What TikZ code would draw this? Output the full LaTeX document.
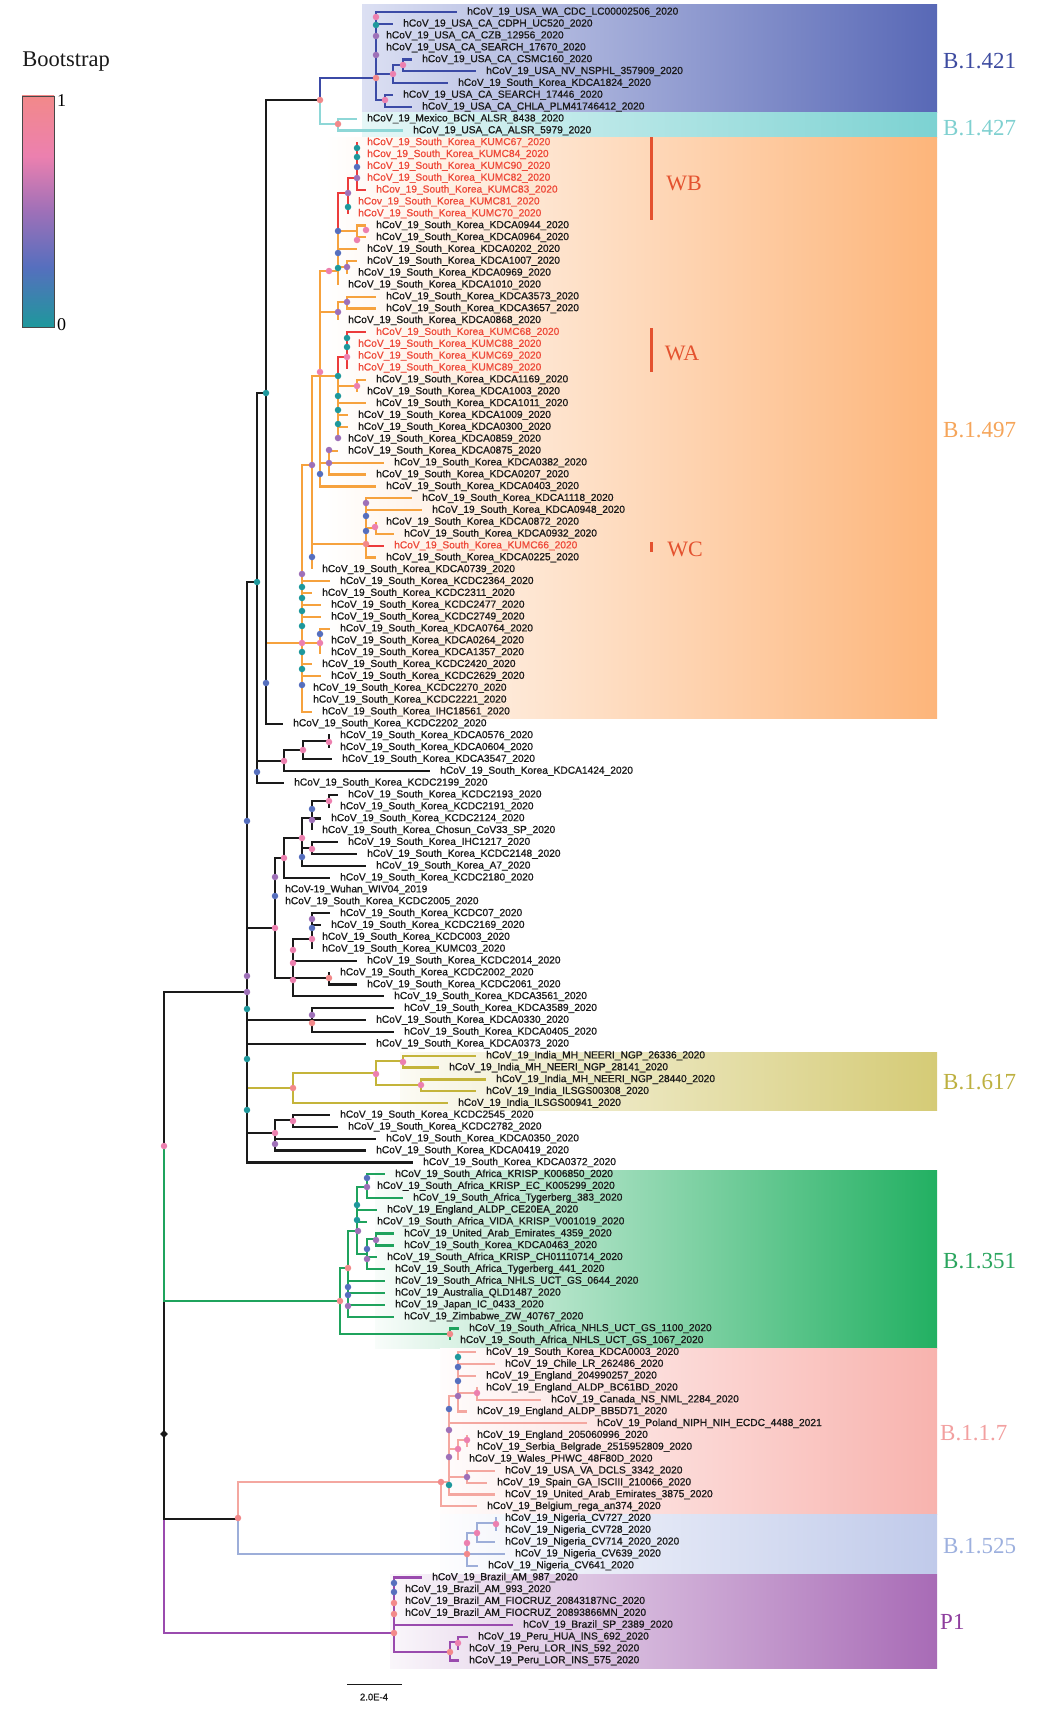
\documentclass[tikz,border=0pt]{standalone}
\usepackage{fontspec}
\setmainfont{Liberation Serif}
\setsansfont{Liberation Sans}
\newfontfamily\leaffont{Liberation Sans}[BoldFont=Liberation Sans,BoldFeatures={FakeBold=0.9}]
\usetikzlibrary{shapes.geometric}
\definecolor{Ink}{HTML}{1A1A1A}
\definecolor{Hot}{HTML}{EE4A3A}
\definecolor{CW}{HTML}{EC3B3B}
\definecolor{C421}{HTML}{3B4AA6}
\definecolor{C427}{HTML}{8ED7D7}
\definecolor{C497}{HTML}{F6A23E}
\definecolor{C617}{HTML}{C4B43A}
\definecolor{C351}{HTML}{1FA35D}
\definecolor{C117}{HTML}{F4A7A0}
\definecolor{C525}{HTML}{9DAED9}
\definecolor{CP1}{HTML}{9A4BAE}
\definecolor{G421}{HTML}{5868B6}
\definecolor{G421L}{HTML}{DCE0F3}
\definecolor{G427}{HTML}{7CD2D2}
\definecolor{G427L}{HTML}{E6F7F7}
\definecolor{G497}{HTML}{FDB57A}
\definecolor{G617}{HTML}{D5CB76}
\definecolor{G351}{HTML}{22B062}
\definecolor{G117}{HTML}{F8B3AE}
\definecolor{G525}{HTML}{C0CAEA}
\definecolor{GP1}{HTML}{A86BB6}
\definecolor{T421}{HTML}{3D4BA0}
\definecolor{T427}{HTML}{7FD0D0}
\definecolor{T497}{HTML}{F5A55A}
\definecolor{T617}{HTML}{BDB040}
\definecolor{T351}{HTML}{2AA55E}
\definecolor{T117}{HTML}{F2A0A0}
\definecolor{T525}{HTML}{9DB0DE}
\definecolor{TP1}{HTML}{8E3E9E}
\definecolor{Wred}{HTML}{E4522F}
\definecolor{bsT}{HTML}{1E989C}
\definecolor{bsB}{HTML}{566FBE}
\definecolor{bsP}{HTML}{9E70B8}
\definecolor{bsK}{HTML}{EC80AF}
\definecolor{bsR}{HTML}{F2898A}
\pgfdeclareverticalshading{bootbar}{100bp}{color(0bp)=(bsT); color(25bp)=(bsT); color(38bp)=(bsB); color(50bp)=(bsP); color(62bp)=(bsK); color(75bp)=(bsR); color(100bp)=(bsR)}
\tikzset{
  leaf/.style={anchor=west,inner sep=0pt,xshift=10pt,font=\fontsize{10.2}{11}\selectfont\leaffont\bfseries,text=Ink},
  hot/.style={text=Hot},
  br/.style={line width=2.2pt,draw=#1},
  bsdot/.style={circle,inner sep=0pt,minimum size=6.5pt,fill=#1},
  cladelab/.style={anchor=west,inner sep=0pt,font=\fontsize{23}{24}\selectfont,text=#1},
  wlab/.style={inner sep=0pt,font=\fontsize{22}{23}\selectfont,text=Wred},
  wbar/.style={fill=Wred}
}
\newcommand{\taxon}[4][]{%
  \coordinate (t#2) at (#3,{11.86*#2+0.14});
  \node[leaf,#1] (l#2) at (t#2) {\detokenize{#4}};}

\begin{document}
\begin{tikzpicture}[x=1pt,y=-1pt]
\useasboundingbox (0,0) rectangle (1037,1718);

% clade boxes
\shade[left color=G421L,right color=G421] (362,5) rectangle (937,113);
\shade[left color=G427L,right color=G427] (362,113) rectangle (937,138);
\shade[left color=white,right color=G497] (325,138) rectangle (937,718);
\shade[left color=G617!8,right color=G617] (400,1052) rectangle (937,1110);
\shade[left color=G351!3,right color=G351] (375,1170) rectangle (937,1348);
\shade[left color=G117!3,right color=G117] (440,1348) rectangle (937,1514);
\shade[left color=G525!3,right color=G525] (440,1514) rectangle (937,1573);
\shade[left color=GP1!6,right color=GP1] (390,1574) rectangle (937,1668);

% taxa
\taxon{1}{457}{hCoV_19_USA_WA_CDC_LC00002506_2020}
\taxon{2}{393}{hCoV_19_USA_CA_CDPH_UC520_2020}
\taxon{3}{376}{hCoV_19_USA_CA_CZB_12956_2020}
\taxon{4}{376}{hCoV_19_USA_CA_SEARCH_17670_2020}
\taxon{5}{412}{hCoV_19_USA_CA_CSMC160_2020}
\taxon{6}{476}{hCoV_19_USA_NV_NSPHL_357909_2020}
\taxon{7}{448}{hCoV_19_South_Korea_KDCA1824_2020}
\taxon{8}{393}{hCoV_19_USA_CA_SEARCH_17446_2020}
\taxon{9}{412}{hCoV_19_USA_CA_CHLA_PLM41746412_2020}
\taxon{10}{357}{hCoV_19_Mexico_BCN_ALSR_8438_2020}
\taxon{11}{403}{hCoV_19_USA_CA_ALSR_5979_2020}
\taxon[hot]{12}{357}{hCoV_19_South_Korea_KUMC67_2020}
\taxon[hot]{13}{357}{hCov_19_South_Korea_KUMC84_2020}
\taxon[hot]{14}{357}{hCoV_19_South_Korea_KUMC90_2020}
\taxon[hot]{15}{357}{hCoV_19_South_Korea_KUMC82_2020}
\taxon[hot]{16}{366}{hCov_19_South_Korea_KUMC83_2020}
\taxon[hot]{17}{348}{hCov_19_South_Korea_KUMC81_2020}
\taxon[hot]{18}{348}{hCoV_19_South_Korea_KUMC70_2020}
\taxon{19}{366}{hCoV_19_South_Korea_KDCA0944_2020}
\taxon{20}{366}{hCoV_19_South_Korea_KDCA0964_2020}
\taxon{21}{357}{hCoV_19_South_Korea_KDCA0202_2020}
\taxon{22}{357}{hCoV_19_South_Korea_KDCA1007_2020}
\taxon{23}{348}{hCoV_19_South_Korea_KDCA0969_2020}
\taxon{24}{338}{hCoV_19_South_Korea_KDCA1010_2020}
\taxon{25}{376}{hCoV_19_South_Korea_KDCA3573_2020}
\taxon{26}{376}{hCoV_19_South_Korea_KDCA3657_2020}
\taxon{27}{338}{hCoV_19_South_Korea_KDCA0868_2020}
\taxon[hot]{28}{366}{hCoV_19_South_Korea_KUMC68_2020}
\taxon[hot]{29}{348}{hCoV_19_South_Korea_KUMC88_2020}
\taxon[hot]{30}{348}{hCoV_19_South_Korea_KUMC69_2020}
\taxon[hot]{31}{348}{hCoV_19_South_Korea_KUMC89_2020}
\taxon{32}{366}{hCoV_19_South_Korea_KDCA1169_2020}
\taxon{33}{357}{hCoV_19_South_Korea_KDCA1003_2020}
\taxon{34}{366}{hCoV_19_South_Korea_KDCA1011_2020}
\taxon{35}{348}{hCoV_19_South_Korea_KDCA1009_2020}
\taxon{36}{348}{hCoV_19_South_Korea_KDCA0300_2020}
\taxon{37}{338}{hCoV_19_South_Korea_KDCA0859_2020}
\taxon{38}{338}{hCoV_19_South_Korea_KDCA0875_2020}
\taxon{39}{384}{hCoV_19_South_Korea_KDCA0382_2020}
\taxon{40}{366}{hCoV_19_South_Korea_KDCA0207_2020}
\taxon{41}{376}{hCoV_19_South_Korea_KDCA0403_2020}
\taxon{42}{412}{hCoV_19_South_Korea_KDCA1118_2020}
\taxon{43}{422}{hCoV_19_South_Korea_KDCA0948_2020}
\taxon{44}{376}{hCoV_19_South_Korea_KDCA0872_2020}
\taxon{45}{394}{hCoV_19_South_Korea_KDCA0932_2020}
\taxon[hot]{46}{384}{hCoV_19_South_Korea_KUMC66_2020}
\taxon{47}{376}{hCoV_19_South_Korea_KDCA0225_2020}
\taxon{48}{312}{hCoV_19_South_Korea_KDCA0739_2020}
\taxon{49}{330}{hCoV_19_South_Korea_KCDC2364_2020}
\taxon{50}{312}{hCoV_19_South_Korea_KCDC2311_2020}
\taxon{51}{321}{hCoV_19_South_Korea_KCDC2477_2020}
\taxon{52}{321}{hCoV_19_South_Korea_KCDC2749_2020}
\taxon{53}{330}{hCoV_19_South_Korea_KDCA0764_2020}
\taxon{54}{321}{hCoV_19_South_Korea_KDCA0264_2020}
\taxon{55}{321}{hCoV_19_South_Korea_KDCA1357_2020}
\taxon{56}{312}{hCoV_19_South_Korea_KCDC2420_2020}
\taxon{57}{321}{hCoV_19_South_Korea_KCDC2629_2020}
\taxon{58}{303}{hCoV_19_South_Korea_KCDC2270_2020}
\taxon{59}{303}{hCoV_19_South_Korea_KCDC2221_2020}
\taxon{60}{312}{hCoV_19_South_Korea_IHC18561_2020}
\taxon{61}{283}{hCoV_19_South_Korea_KCDC2202_2020}
\taxon{62}{330}{hCoV_19_South_Korea_KDCA0576_2020}
\taxon{63}{330}{hCoV_19_South_Korea_KDCA0604_2020}
\taxon{64}{332}{hCoV_19_South_Korea_KDCA3547_2020}
\taxon{65}{430}{hCoV_19_South_Korea_KDCA1424_2020}
\taxon{66}{284}{hCoV_19_South_Korea_KCDC2199_2020}
\taxon{67}{338}{hCoV_19_South_Korea_KCDC2193_2020}
\taxon{68}{330}{hCoV_19_South_Korea_KCDC2191_2020}
\taxon{69}{321}{hCoV_19_South_Korea_KCDC2124_2020}
\taxon{70}{312}{hCoV_19_South_Korea_Chosun_CoV33_SP_2020}
\taxon{71}{338}{hCoV_19_South_Korea_IHC1217_2020}
\taxon{72}{357}{hCoV_19_South_Korea_KCDC2148_2020}
\taxon{73}{366}{hCoV_19_South_Korea_A7_2020}
\taxon{74}{330}{hCoV_19_South_Korea_KCDC2180_2020}
\taxon{75}{275}{hCoV-19_Wuhan_WIV04_2019}
\taxon{76}{275}{hCoV_19_South_Korea_KCDC2005_2020}
\taxon{77}{330}{hCoV_19_South_Korea_KCDC07_2020}
\taxon{78}{321}{hCoV_19_South_Korea_KCDC2169_2020}
\taxon{79}{312}{hCoV_19_South_Korea_KCDC003_2020}
\taxon{80}{312}{hCoV_19_South_Korea_KUMC03_2020}
\taxon{81}{357}{hCoV_19_South_Korea_KCDC2014_2020}
\taxon{82}{330}{hCoV_19_South_Korea_KCDC2002_2020}
\taxon{83}{357}{hCoV_19_South_Korea_KCDC2061_2020}
\taxon{84}{384}{hCoV_19_South_Korea_KDCA3561_2020}
\taxon{85}{394}{hCoV_19_South_Korea_KDCA3589_2020}
\taxon{86}{366}{hCoV_19_South_Korea_KDCA0330_2020}
\taxon{87}{394}{hCoV_19_South_Korea_KDCA0405_2020}
\taxon{88}{366}{hCoV_19_South_Korea_KDCA0373_2020}
\taxon{89}{476}{hCoV_19_India_MH_NEERI_NGP_26336_2020}
\taxon{90}{439}{hCoV_19_India_MH_NEERI_NGP_28141_2020}
\taxon{91}{486}{hCoV_19_India_MH_NEERI_NGP_28440_2020}
\taxon{92}{476}{hCoV_19_India_ILSGS00308_2020}
\taxon{93}{448}{hCoV_19_India_ILSGS00941_2020}
\taxon{94}{330}{hCoV_19_South_Korea_KCDC2545_2020}
\taxon{95}{338}{hCoV_19_South_Korea_KCDC2782_2020}
\taxon{96}{376}{hCoV_19_South_Korea_KDCA0350_2020}
\taxon{97}{366}{hCoV_19_South_Korea_KDCA0419_2020}
\taxon{98}{413}{hCoV_19_South_Korea_KDCA0372_2020}
\taxon{99}{385}{hCoV_19_South_Africa_KRISP_K006850_2020}
\taxon{100}{367}{hCoV_19_South_Africa_KRISP_EC_K005299_2020}
\taxon{101}{403}{hCoV_19_South_Africa_Tygerberg_383_2020}
\taxon{102}{377}{hCoV_19_England_ALDP_CE20EA_2020}
\taxon{103}{367}{hCoV_19_South_Africa_VIDA_KRISP_V001019_2020}
\taxon{104}{394}{hCoV_19_United_Arab_Emirates_4359_2020}
\taxon{105}{394}{hCoV_19_South_Korea_KDCA0463_2020}
\taxon{106}{377}{hCoV_19_South_Africa_KRISP_CH01110714_2020}
\taxon{107}{385}{hCoV_19_South_Africa_Tygerberg_441_2020}
\taxon{108}{385}{hCoV_19_South_Africa_NHLS_UCT_GS_0644_2020}
\taxon{109}{385}{hCoV_19_Australia_QLD1487_2020}
\taxon{110}{385}{hCoV_19_Japan_IC_0433_2020}
\taxon{111}{394}{hCoV_19_Zimbabwe_ZW_40767_2020}
\taxon{112}{459}{hCoV_19_South_Africa_NHLS_UCT_GS_1100_2020}
\taxon{113}{450}{hCoV_19_South_Africa_NHLS_UCT_GS_1067_2020}
\taxon{114}{476}{hCoV_19_South_Korea_KDCA0003_2020}
\taxon{115}{495}{hCoV_19_Chile_LR_262486_2020}
\taxon{116}{476}{hCoV_19_England_204990257_2020}
\taxon{117}{476}{hCoV_19_England_ALDP_BC61BD_2020}
\taxon{118}{541}{hCoV_19_Canada_NS_NML_2284_2020}
\taxon{119}{467}{hCoV_19_England_ALDP_BB5D71_2020}
\taxon{120}{587}{hCoV_19_Poland_NIPH_NIH_ECDC_4488_2021}
\taxon{121}{467}{hCoV_19_England_205060996_2020}
\taxon{122}{467}{hCoV_19_Serbia_Belgrade_2515952809_2020}
\taxon{123}{459}{hCoV_19_Wales_PHWC_48F80D_2020}
\taxon{124}{495}{hCoV_19_USA_VA_DCLS_3342_2020}
\taxon{125}{487}{hCoV_19_Spain_GA_ISCIII_210066_2020}
\taxon{126}{495}{hCoV_19_United_Arab_Emirates_3875_2020}
\taxon{127}{477}{hCoV_19_Belgium_rega_an374_2020}
\taxon{128}{495}{hCoV_19_Nigeria_CV727_2020}
\taxon{129}{495}{hCoV_19_Nigeria_CV728_2020}
\taxon{130}{495}{hCoV_19_Nigeria_CV714_2020_2020}
\taxon{131}{505}{hCoV_19_Nigeria_CV639_2020}
\taxon{132}{478}{hCoV_19_Nigeria_CV641_2020}
\taxon{133}{422}{hCoV_19_Brazil_AM_987_2020}
\taxon{134}{395}{hCoV_19_Brazil_AM_993_2020}
\taxon{135}{395}{hCoV_19_Brazil_AM_FIOCRUZ_20843187NC_2020}
\taxon{136}{395}{hCoV_19_Brazil_AM_FIOCRUZ_20893866MN_2020}
\taxon{137}{513}{hCoV_19_Brazil_SP_2389_2020}
\taxon{138}{468}{hCoV_19_Peru_HUA_INS_692_2020}
\taxon{139}{459}{hCoV_19_Peru_LOR_INS_592_2020}
\taxon{140}{459}{hCoV_19_Peru_LOR_INS_575_2020}

% internal nodes
\coordinate (n0506) at (403,65);
\coordinate (n0507) at (393,74);
\coordinate (n421) at (376,78);
\coordinate (n0809) at (385,100);
\coordinate (n421427) at (320,100);
\coordinate (n427) at (338,124);
\coordinate (nWB1) at (357,178);
\coordinate (nWB) at (348,193);
\coordinate (nW0) at (338,231);
\coordinate (n1920) at (357,231);
\coordinate (n2223) at (347,267);
\coordinate (n338a) at (338,271);
\coordinate (n2526) at (347,302);
\coordinate (n2527) at (338,312);
\coordinate (nWA) at (347,357);
\coordinate (n338b) at (338,376);
\coordinate (n3233) at (357,386);
\coordinate (nUp) at (320,376);
\coordinate (n329b) at (329,463);
\coordinate (n312) at (312,465);
\coordinate (n4445) at (376,528);
\coordinate (nWC) at (366,544);
\coordinate (n497) at (302,643);
\coordinate (n5355) at (320,643);
\coordinate (n266) at (266,393);
\coordinate (n257) at (257,582);
\coordinate (n6263) at (329,741);
\coordinate (n6264) at (303,750);
\coordinate (n6265) at (284,761);
\coordinate (n6266) at (257,772);
\coordinate (n6768) at (329,801);
\coordinate (n6770) at (312,818);
\coordinate (n6773) at (302,838);
\coordinate (n7172) at (312,848);
\coordinate (n6774) at (284,858);
\coordinate (n275) at (275,928);
\coordinate (n7780) at (312,939);
\coordinate (n7784) at (293,978);
\coordinate (n8283) at (329,978);
\coordinate (n247) at (247,992);
\coordinate (n8587) at (312,1020);
\coordinate (n8990) at (403,1061);
\coordinate (n8992) at (376,1073);
\coordinate (n9192) at (421,1085);
\coordinate (n617) at (293,1088);
\coordinate (n9495) at (293,1120);
\coordinate (n9497) at (275,1133);
\coordinate (nTop) at (164,1146);
\coordinate (n99101) at (367,1187);
\coordinate (n99107) at (357,1231);
\coordinate (n104105) at (376,1239);
\coordinate (n104107) at (367,1254);
\coordinate (n351a) at (348,1268);
\coordinate (n351) at (340,1301);
\coordinate (n112113) at (450,1334);
\coordinate (n117118) at (477,1393);
\coordinate (n114119) at (458,1396);
\coordinate (n121122) at (467,1440);
\coordinate (n121123) at (458,1449);
\coordinate (n124125) at (467,1477);
\coordinate (n117a) at (449,1482);
\coordinate (n117) at (441,1482);
\coordinate (nRoot) at (164,1434);
\coordinate (n117525) at (238,1519);
\coordinate (n128129) at (496,1523);
\coordinate (n128130) at (477,1533);
\coordinate (n525) at (467,1554);
\coordinate (nP1) at (394,1633);
\coordinate (n138139) at (458,1642);
\coordinate (nPeru) at (450,1652);

% backbone
\draw[br=CP1] (nRoot) |- (nP1);
\draw[br=Ink] (nRoot) |- (nTop);
\draw[br=Ink] (nRoot) |- (n117525);
\draw[br=Ink] (nTop) |- (n247);
\draw[br=C351] (nTop) |- (n351);

% B.1.421 / B.1.427
\draw[br=C427] (n421427) |- (n427);
\foreach \c in {t10,t11} \draw[br=C427] (n427) |- (\c);
\draw[br=C421] (n421427) |- (n421);
\foreach \c in {t1,t2,t3,t4,n0507,n0809} \draw[br=C421] (n421) |- (\c);
\foreach \c in {n0506,t7} \draw[br=C421] (n0507) |- (\c);
\foreach \c in {t5,t6} \draw[br=C421] (n0506) |- (\c);
\foreach \c in {t8,t9} \draw[br=C421] (n0809) |- (\c);

% B.1.497
\foreach \c in {n312,t49,t50,t51,t52,n5355,t56,t57,t58,t59,t60} \draw[br=C497] (n497) |- (\c);
\foreach \c in {t53,t54,t55} \draw[br=C497] (n5355) |- (\c);
\foreach \c in {nUp,nWC,t48} \draw[br=C497] (n312) |- (\c);
\foreach \c in {n338a,n2527,n338b,n329b,t41} \draw[br=C497] (nUp) |- (\c);
\foreach \c in {nW0,t21,n2223,t24} \draw[br=C497] (n338a) |- (\c);
\draw[br=C497] (nW0) |- (n1920);
\foreach \c in {t19,t20} \draw[br=C497] (n1920) |- (\c);
\foreach \c in {t22,t23} \draw[br=C497] (n2223) |- (\c);
\foreach \c in {n2526,t27} \draw[br=C497] (n2527) |- (\c);
\foreach \c in {t25,t26} \draw[br=C497] (n2526) |- (\c);
\foreach \c in {n3233,t34,t35,t36,t37} \draw[br=C497] (n338b) |- (\c);
\foreach \c in {t32,t33} \draw[br=C497] (n3233) |- (\c);
\foreach \c in {t38,t39,t40} \draw[br=C497] (n329b) |- (\c);
\foreach \c in {t42,t43,n4445,t47} \draw[br=C497] (nWC) |- (\c);
\foreach \c in {t44,t45} \draw[br=C497] (n4445) |- (\c);
\draw[br=CW] (nW0) |- (nWB);
\foreach \c in {nWB1,t17,t18} \draw[br=CW] (nWB) |- (\c);
\foreach \c in {t12,t13,t14,t15,t16} \draw[br=CW] (nWB1) |- (\c);
\draw[br=CW] (n338b) |- (nWA);
\foreach \c in {t28,t29,t30,t31} \draw[br=CW] (nWA) |- (\c);
\draw[br=CW] (nWC) |- (t46);

% Korean and Wuhan lineages
\draw[br=C497] (n266) |- (n497);
\draw[br=Ink] (n266) |- (n421427);
\draw[br=Ink] (n266) |- (t61);
\foreach \c in {n266,n6266} \draw[br=Ink] (n257) |- (\c);
\foreach \c in {n6265,t66} \draw[br=Ink] (n6266) |- (\c);
\foreach \c in {n6264,t65} \draw[br=Ink] (n6265) |- (\c);
\foreach \c in {n6263,t64} \draw[br=Ink] (n6264) |- (\c);
\foreach \c in {t62,t63} \draw[br=Ink] (n6263) |- (\c);
\draw[br=C617] (n247) |- (n617);
\foreach \c in {n257,n275,n8587,t88,n9497,t98} \draw[br=Ink] (n247) |- (\c);
\foreach \c in {n6774,t75,t76,n7784} \draw[br=Ink] (n275) |- (\c);
\foreach \c in {n6773,t74} \draw[br=Ink] (n6774) |- (\c);
\foreach \c in {n6770,n7172,t73} \draw[br=Ink] (n6773) |- (\c);
\foreach \c in {n6768,t69,t70} \draw[br=Ink] (n6770) |- (\c);
\foreach \c in {t67,t68} \draw[br=Ink] (n6768) |- (\c);
\foreach \c in {t71,t72} \draw[br=Ink] (n7172) |- (\c);
\foreach \c in {n7780,t81,n8283,t84} \draw[br=Ink] (n7784) |- (\c);
\foreach \c in {t77,t78,t79,t80} \draw[br=Ink] (n7780) |- (\c);
\foreach \c in {t82,t83} \draw[br=Ink] (n8283) |- (\c);
\foreach \c in {t85,t86,t87} \draw[br=Ink] (n8587) |- (\c);
\foreach \c in {n9495,t96,t97} \draw[br=Ink] (n9497) |- (\c);
\foreach \c in {t94,t95} \draw[br=Ink] (n9495) |- (\c);

% B.1.617
\foreach \c in {n8992,t93} \draw[br=C617] (n617) |- (\c);
\foreach \c in {n8990,n9192} \draw[br=C617] (n8992) |- (\c);
\foreach \c in {t89,t90} \draw[br=C617] (n8990) |- (\c);
\foreach \c in {t91,t92} \draw[br=C617] (n9192) |- (\c);

% B.1.351
\foreach \c in {n351a,n112113} \draw[br=C351] (n351) |- (\c);
\foreach \c in {n99107,t108,t109,t110,t111} \draw[br=C351] (n351a) |- (\c);
\foreach \c in {n99101,t102,t103,n104107} \draw[br=C351] (n99107) |- (\c);
\foreach \c in {t99,t100,t101} \draw[br=C351] (n99101) |- (\c);
\foreach \c in {n104105,t106,t107} \draw[br=C351] (n104107) |- (\c);
\foreach \c in {t104,t105} \draw[br=C351] (n104105) |- (\c);
\foreach \c in {t112,t113} \draw[br=C351] (n112113) |- (\c);

% B.1.1.7 and B.1.525
\draw[br=C117] (n117525) |- (n117);
\draw[br=C525] (n117525) |- (n525);
\foreach \c in {n117a,t127} \draw[br=C117] (n117) |- (\c);
\foreach \c in {n114119,t120,n121123,n124125,t126} \draw[br=C117] (n117a) |- (\c);
\foreach \c in {t114,t115,t116,n117118,t119} \draw[br=C117] (n114119) |- (\c);
\foreach \c in {t117,t118} \draw[br=C117] (n117118) |- (\c);
\foreach \c in {n121122,t123} \draw[br=C117] (n121123) |- (\c);
\foreach \c in {t121,t122} \draw[br=C117] (n121122) |- (\c);
\foreach \c in {t124,t125} \draw[br=C117] (n124125) |- (\c);
\foreach \c in {n128130,t131,t132} \draw[br=C525] (n525) |- (\c);
\foreach \c in {n128129,t130} \draw[br=C525] (n128130) |- (\c);
\foreach \c in {t128,t129} \draw[br=C525] (n128129) |- (\c);

% P1
\foreach \c in {t133,t134,t135,t136,t137,nPeru} \draw[br=CP1] (nP1) |- (\c);
\foreach \c in {n138139,t140} \draw[br=CP1] (nPeru) |- (\c);
\foreach \c in {t138,t139} \draw[br=CP1] (n138139) |- (\c);

% bootstrap dots
\foreach \x/\y/\c [count=\k] in {376/17/bsK,376/25/bsT,376/36/bsP,376/55/bsP,376/78/bsR,393/74/bsK,403/65/bsK,385/100/bsK,320/100/bsR,338/124/bsR,
  357/148/bsT,357/157/bsT,357/167/bsB,357/178/bsP,348/193/bsP,348/207/bsT,
  338/231/bsB,366/230/bsK,357/240/bsK,338/253/bsB,338/268/bsT,347/267/bsP,329/271/bsK,347/302/bsP,338/312/bsP,
  347/338/bsT,347/347/bsT,347/357/bsK,320/372/bsK,338/376/bsT,357/386/bsK,338/396/bsT,338/410/bsT,338/424/bsT,338/438/bsP,329/450/bsP,
  329/463/bsP,312/465/bsP,320/474/bsB,366/503/bsP,366/516/bsB,366/531/bsB,375/527/bsK,366/544/bsR,312/557/bsB,
  302/574/bsP,302/587/bsT,302/598/bsT,257/582/bsT,302/611/bsT,302/626/bsT,320/634/bsB,302/643/bsK,320/643/bsK,302/652/bsT,302/669/bsT,302/685/bsB,266/683/bsB,266/393/bsT,
  329/742/bsK,303/750/bsK,284/761/bsK,257/772/bsB,247/821/bsB,
  329/801/bsK,312/809/bsB,312/820/bsP,302/838/bsK,312/849/bsK,302/857/bsB,284/858/bsK,275/877/bsP,275/896/bsB,
  312/919/bsP,312/928/bsB,275/928/bsK,312/939/bsK,293/950/bsK,293/963/bsK,293/980/bsK,329/978/bsR,247/976/bsP,247/992/bsP,247/1009/bsT,312/1015/bsP,312/1023/bsR,
  247/1059/bsT,403/1062/bsK,376/1074/bsK,421/1085/bsK,293/1088/bsR,247/1110/bsT,293/1121/bsK,275/1133/bsK,275/1144/bsP,
  367/1178/bsB,367/1187/bsP,357/1205/bsT,357/1220/bsT,358/1231/bsP,376/1240/bsP,367/1249/bsB,367/1259/bsP,348/1268/bsR,340/1301/bsR,348/1287/bsB,348/1295/bsB,348/1306/bsP,450/1334/bsR,
  458/1357/bsT,458/1367/bsB,458/1381/bsB,458/1396/bsP,477/1393/bsK,449/1409/bsB,449/1430/bsP,467/1440/bsK,458/1449/bsK,449/1457/bsP,467/1477/bsP,449/1485/bsT,441/1482/bsR,
  238/1518/bsR,496/1524/bsK,477/1533/bsK,467/1543/bsK,467/1554/bsR,
  394/1583/bsB,394/1592/bsB,394/1603/bsR,394/1614/bsR,394/1633/bsR,458/1643/bsK,450/1652/bsR,164/1146/bsK}
  \node[bsdot=\c] (m\k) at (\x,\y) {};
\node[diamond,fill=Ink,inner sep=0pt,minimum size=8pt] (root) at (nRoot) {};

% outbreak marks
\fill[wbar] (649.5,137) rectangle (652.5,220);
\fill[wbar] (649.5,328) rectangle (652.5,372);
\fill[wbar] (649.5,542) rectangle (652.5,552);
\node[wlab] (wb) at (684,183) {WB};
\node[wlab] (wa) at (682,353) {WA};
\node[wlab] (wc) at (685,549) {WC};

% clade names
\node[cladelab=T421] (c421) at (943,61) {B.1.421};
\node[cladelab=T427] (c427) at (943,128) {B.1.427};
\node[cladelab=T497] (c497) at (943,430) {B.1.497};
\node[cladelab=T617] (c617) at (943,1082) {B.1.617};
\node[cladelab=T351] (c351) at (943,1261) {B.1.351};
\node[cladelab=T117] (c117) at (940,1433) {B.1.1.7};
\node[cladelab=T525] (c525) at (943,1546) {B.1.525};
\node[cladelab=TP1] (cP1) at (940,1622) {P1};

% legend and scale
\node[font=\fontsize{22.5}{23}\selectfont,text=Ink] (boot) at (66,62) {Bootstrap};
\shade[shading=bootbar,draw=Ink!80,line width=0.6pt] (22,96) rectangle (54,327);
\node[anchor=west,inner sep=0pt,font=\fontsize{18}{19}\selectfont] (b1) at (57,101) {1};
\node[anchor=west,inner sep=0pt,font=\fontsize{18}{19}\selectfont] (b0) at (57,325) {0};
\coordinate (sb0) at (347,1684);
\coordinate (sb1) at (402,1684);
\draw[line width=1pt,Ink] (sb0) -- (sb1);
\node[font=\fontsize{9.5}{10}\selectfont\leaffont\bfseries,text=Ink] (sbl) at (374,1697) {2.0E-4};
\end{tikzpicture}
\end{document}
